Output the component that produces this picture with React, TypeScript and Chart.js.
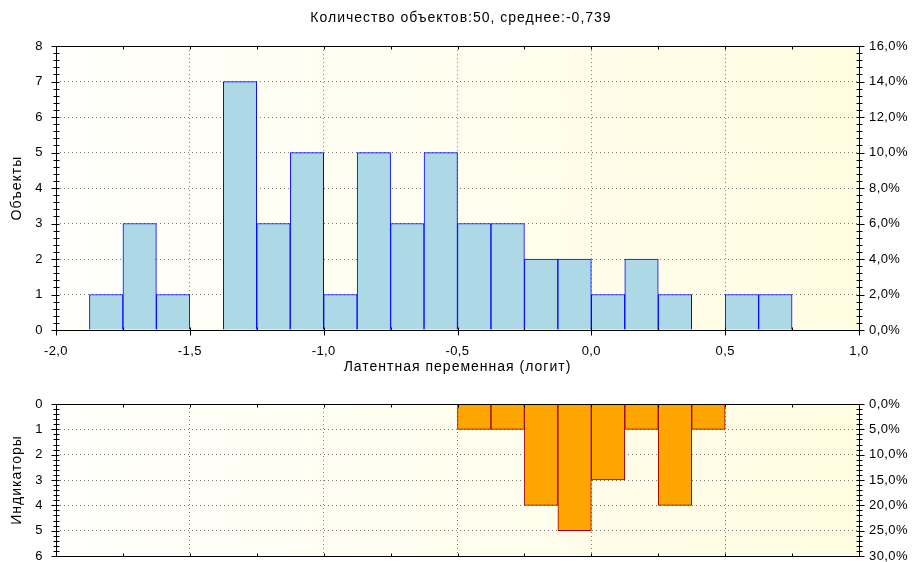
import React, { useEffect, useRef } from 'react';
import { Chart, registerables } from 'chart.js';
Chart.register(...registerables);

const TITLE = 'Количество объектов:50, среднее:-0,739';
const X_TITLE = 'Латентная переменная (логит)';
const Y_TITLE_TOP = 'Объекты';
const Y_TITLE_BOTTOM = 'Индикаторы';

const objectBinCenters = [
  -1.8125, -1.6875, -1.5625, -1.4375, -1.3125, -1.1875, -1.0625, -0.9375, -0.8125, -0.6875, -0.5625,
  -0.4375, -0.3125, -0.1875, -0.0625, 0.0625, 0.1875, 0.3125, 0.4375, 0.5625, 0.6875,
];
const objectCounts = [1, 3, 1, 0, 7, 3, 5, 1, 5, 3, 5, 3, 3, 2, 2, 1, 2, 1, 0, 1, 1];

const indicatorBinCenters = [-0.4375, -0.3125, -0.1875, -0.0625, 0.0625, 0.1875, 0.3125, 0.4375];
const indicatorCounts = [1, 1, 4, 5, 3, 1, 4, 1];

const xTicks = { min: -2, max: 1, step: 0.5 };
const topLeftTicks = { min: 0, max: 8, step: 1 };
const topRightTicks = { min: 0, max: 16, step: 2 };
const bottomLeftTicks = { min: 0, max: 6, step: 1 };
const bottomRightTicks = { min: 0, max: 30, step: 5 };

const FONT = '"Liberation Sans", Arial, sans-serif';
const GRID = '#7a7a7a';

const fmt1 = (v: number) => Number(v).toFixed(1).replace('.', ',');
const fmtPct = (v: number) => Number(v).toFixed(1).replace('.', ',') + '%';

const bgPlugin = {
  id: 'bgGradient',
  beforeDraw(chart: any) {
    const { ctx, chartArea: ca } = chart;
    ctx.save();
    const g = ctx.createLinearGradient(ca.left, 0, ca.right, 0);
    g.addColorStop(0, '#FFFFFC');
    g.addColorStop(1, '#FFFDE1');
    ctx.fillStyle = g;
    ctx.fillRect(ca.left, ca.top, ca.right - ca.left, ca.bottom - ca.top);
    ctx.restore();
  },
};

// GDI-like wider text: add letter spacing to tick labels and titles
const spacingPlugin = {
  id: 'letterSpacing',
  afterLayout(chart: any) {
    const ctx = chart.ctx;
    Object.values(chart.scales).forEach((s: any) => {
      if (s.__spaced) return;
      s.__spaced = true;
      const dl = s.drawLabels.bind(s);
      s.drawLabels = (ca: any) => {
        ctx.save();
        ctx.letterSpacing = '0.4px';
        dl(ca);
        ctx.restore();
      };
      const dt = s.drawTitle.bind(s);
      s.drawTitle = (...a: any[]) => {
        ctx.save();
        ctx.letterSpacing = '1px';
        dt(...a);
        ctx.restore();
      };
    });
    const tb = chart.titleBlock;
    if (tb && !tb.__spaced) {
      tb.__spaced = true;
      const d = tb.draw.bind(tb);
      tb.draw = (...a: any[]) => {
        ctx.save();
        ctx.letterSpacing = '1px';
        ctx.translate(5, 1);
        d(...a);
        ctx.restore();
      };
    }
  },
};

function makeFramePlugin(xOutTicks: boolean) {
  return {
    id: 'frameTicks',
    afterDraw(chart: any) {
      const { ctx, chartArea: ca, scales } = chart;
      const L = Math.round(ca.left) + 0.5;
      const R = Math.round(ca.right) + 0.5;
      const T = Math.round(ca.top) + 0.5;
      const B = Math.round(ca.bottom) + 0.5;
      ctx.save();
      ctx.strokeStyle = '#000';
      ctx.lineWidth = 1;
      ctx.beginPath();
      const ys = scales.y;
      const n = Math.round((ys.max - ys.min) * 5);
      for (let i = 0; i <= n; i++) {
        const v = ys.min + i / 5;
        const py = Math.round(ys.getPixelForValue(v)) + 0.5;
        const major = i % 5 === 0;
        const out = major ? 5 : 3;
        const inn = 3;
        ctx.moveTo(L - out, py);
        ctx.lineTo(L + inn, py);
        ctx.moveTo(R - inn, py);
        ctx.lineTo(R + out, py);
      }
      const xs = scales.x;
      const m = Math.round((xs.max - xs.min) * 4);
      for (let i = 0; i <= m; i++) {
        const v = xs.min + i / 4;
        const px = Math.round(xs.getPixelForValue(v)) + 0.5;
        const major = i % 2 === 0;
        ctx.moveTo(px, T);
        ctx.lineTo(px, T + 3);
        ctx.moveTo(px, B);
        ctx.lineTo(px, B - 3);
        if (major && xOutTicks) {
          ctx.moveTo(px, B);
          ctx.lineTo(px, B + 5);
        }
      }
      ctx.stroke();
      ctx.beginPath();
      ctx.rect(L, T, R - L, B - T);
      ctx.stroke();
      ctx.restore();
    },
  };
}

const tickFont = { family: FONT, size: 13, lineHeight: '14px' };
const axisTitleFont = { family: FONT, size: 14, weight: 'normal' as const };
const mainTitleFont = { family: FONT, size: 14, weight: 'normal' as const };

export default function App() {
  const topRef = useRef<HTMLCanvasElement>(null);
  const botRef = useRef<HTMLCanvasElement>(null);

  useEffect(() => {
    const top = new Chart(topRef.current!, {
      type: 'bar',
      data: {
        datasets: [
          {
            data: objectBinCenters.map((x, i) => ({ x, y: objectCounts[i] })) as any,
            backgroundColor: '#ADD8E6',
            borderColor: '#0000FF',
            borderWidth: 1,
            barPercentage: 1,
            categoryPercentage: 1,
            xAxisID: 'x',
            yAxisID: 'y',
          },
        ],
      },
      options: {
        responsive: false,
        animation: false,
        events: [],
        layout: { padding: { left: 0, right: 0, top: 0, bottom: 0 } },
        plugins: {
          legend: { display: false },
          tooltip: { enabled: false },
          title: {
            display: true,
            text: TITLE,
            color: '#000',
            font: mainTitleFont,
            padding: { top: 9, bottom: 20.3 },
          },
        },
        scales: {
          x: {
            type: 'linear',
            position: 'bottom',
            min: xTicks.min,
            max: xTicks.max,
            offset: false,
            ticks: {
              stepSize: xTicks.step,
              callback: (v: any) => fmt1(v),
              color: '#000',
              font: tickFont,
              padding: 14,
              maxRotation: 0,
              autoSkip: false,
            },
            grid: { offset: false, color: GRID, drawTicks: false, lineWidth: 1 },
            border: { display: false, dash: [1, 3] },
            title: { display: true, text: X_TITLE, color: '#000', font: axisTitleFont, padding: { top: 4, bottom: 4.5 } },
            afterFit(s: any) {
              s.height = 50;
            },
          },
          y: {
            type: 'linear',
            position: 'left',
            min: topLeftTicks.min,
            max: topLeftTicks.max,
            ticks: { stepSize: topLeftTicks.step, color: '#000', font: tickFont, padding: 13 },
            grid: { color: GRID, drawTicks: false, lineWidth: 1 },
            border: { display: false, dash: [1, 3] },
            title: { display: true, text: Y_TITLE_TOP, color: '#000', font: axisTitleFont, padding: { top: 9, bottom: 0 } },
            afterFit(s: any) {
              s.width = 56;
            },
          },
          y2: {
            type: 'linear',
            position: 'right',
            min: topRightTicks.min,
            max: topRightTicks.max,
            ticks: { stepSize: topRightTicks.step, color: '#000', font: tickFont, padding: 10, callback: (v: any) => fmtPct(v) },
            grid: { display: false, drawTicks: false },
            border: { display: false },
            afterFit(s: any) {
              s.width = 53;
            },
          },
        } as any,
      },
      plugins: [bgPlugin, spacingPlugin, makeFramePlugin(true)],
    });

    const bottom = new Chart(botRef.current!, {
      type: 'bar',
      data: {
        datasets: [
          {
            data: indicatorBinCenters.map((x, i) => ({ x, y: indicatorCounts[i] })) as any,
            backgroundColor: '#FFA500',
            borderColor: '#990000',
            borderWidth: 1,
            barPercentage: 1,
            categoryPercentage: 1,
            xAxisID: 'x',
            yAxisID: 'y',
          },
        ],
      },
      options: {
        responsive: false,
        animation: false,
        events: [],
        layout: { padding: { left: 0, right: 0, top: 0, bottom: 0 } },
        plugins: { legend: { display: false }, tooltip: { enabled: false }, title: { display: false } },
        scales: {
          x: {
            type: 'linear',
            position: 'bottom',
            min: xTicks.min,
            max: xTicks.max,
            offset: false,
            ticks: { stepSize: xTicks.step, display: false },
            grid: { offset: false, color: GRID, drawTicks: false, lineWidth: 1 },
            border: { display: false, dash: [1, 3] },
            afterFit(s: any) {
              s.height = 6;
            },
          },
          y: {
            type: 'linear',
            position: 'left',
            reverse: true,
            min: bottomLeftTicks.min,
            max: bottomLeftTicks.max,
            ticks: { stepSize: bottomLeftTicks.step, color: '#000', font: tickFont, padding: 13 },
            grid: { color: GRID, drawTicks: false, lineWidth: 1 },
            border: { display: false, dash: [1, 3] },
            title: { display: true, text: Y_TITLE_BOTTOM, color: '#000', font: axisTitleFont, padding: { top: 9, bottom: 0 } },
            afterFit(s: any) {
              s.width = 56;
            },
          },
          y2: {
            type: 'linear',
            position: 'right',
            reverse: true,
            min: bottomRightTicks.min,
            max: bottomRightTicks.max,
            ticks: { stepSize: bottomRightTicks.step, color: '#000', font: tickFont, padding: 10, callback: (v: any) => fmtPct(v) },
            grid: { display: false, drawTicks: false },
            border: { display: false },
            afterFit(s: any) {
              s.width = 53;
            },
          },
        } as any,
      },
      plugins: [bgPlugin, spacingPlugin, makeFramePlugin(false)],
    });

    return () => {
      top.destroy();
      bottom.destroy();
    };
  }, []);

  return (
    <div style={{ position: 'fixed', left: 0, top: 0, width: 912, height: 562, background: '#fff', overflow: 'hidden' }}>
      <canvas
        ref={topRef}
        width={912}
        height={380}
        style={{ position: 'absolute', left: 0, top: 0, display: 'block', width: 912, height: 380 }}
      />
      <canvas
        ref={botRef}
        width={912}
        height={192}
        style={{ position: 'absolute', left: 0, top: 384, display: 'block', width: 912, height: 192 }}
      />
    </div>
  );
}
